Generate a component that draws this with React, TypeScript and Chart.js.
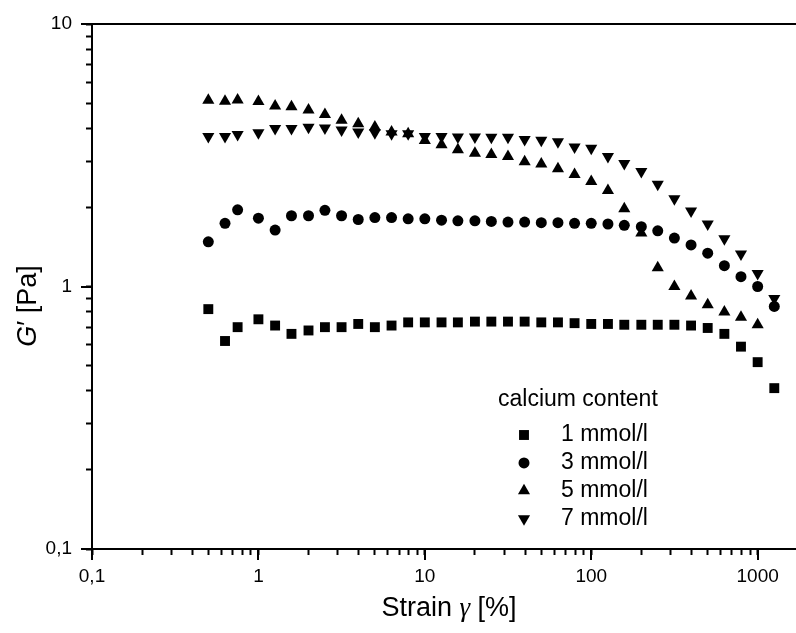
import React, { useEffect, useRef } from "react";
import { Chart, registerables } from "chart.js";
import { drawPoint } from "chart.js/helpers";

Chart.register(...registerables);

// ---- data ----
const strain = [0.5, 0.63, 0.75, 1, 1.26, 1.58, 2, 2.51, 3.16, 3.98, 5.01, 6.31, 7.94, 10, 12.6, 15.8, 20, 25.1, 31.6, 39.8, 50.1, 63.1, 79.4, 100, 126, 158, 200, 251, 316, 398, 501, 631, 794, 1000, 1259];

const g1mmol = [0.82, 0.62, 0.7, 0.75, 0.71, 0.66, 0.68, 0.7, 0.7, 0.72, 0.7, 0.71, 0.73, 0.73, 0.73, 0.73, 0.735, 0.735, 0.735, 0.735, 0.73, 0.73, 0.725, 0.72, 0.72, 0.715, 0.715, 0.715, 0.715, 0.71, 0.695, 0.66, 0.59, 0.515, 0.41];
const g3mmol = [1.48, 1.74, 1.96, 1.82, 1.64, 1.86, 1.86, 1.95, 1.86, 1.8, 1.83, 1.83, 1.81, 1.81, 1.79, 1.78, 1.78, 1.77, 1.76, 1.76, 1.75, 1.75, 1.74, 1.74, 1.73, 1.71, 1.69, 1.63, 1.53, 1.44, 1.34, 1.2, 1.09, 1.0, 0.84];
const g5mmol = [5.12, 5.08, 5.13, 5.07, 4.87, 4.84, 4.7, 4.52, 4.3, 4.17, 4.05, 3.88, 3.82, 3.6, 3.47, 3.32, 3.22, 3.18, 3.13, 2.99, 2.93, 2.81, 2.67, 2.51, 2.32, 1.98, 1.6, 1.18, 1.0, 0.92, 0.852, 0.8, 0.764, 0.715, null];
const g7mmol = [3.73, 3.73, 3.79, 3.85, 4.0, 4.0, 4.04, 4.02, 3.95, 3.88, 3.85, 3.82, 3.82, 3.73, 3.73, 3.71, 3.71, 3.7, 3.7, 3.63, 3.61, 3.56, 3.4, 3.36, 3.13, 2.94, 2.74, 2.45, 2.16, 1.94, 1.73, 1.52, 1.33, 1.12, 0.9];

const seriesLabels = ["1 mmol/l", "3 mmol/l", "5 mmol/l", "7 mmol/l"];
const legendTitle = "calcium content";

const xMajorTicks = [0.1, 1, 10, 100, 1000];
const xMajorLabels = ["0,1", "1", "10", "100", "1000"];
const yMajorTicks = [0.1, 1, 10];
const yMajorLabels = ["0,1", "1", "10"];

const X_MIN = 0.1;
const X_MAX = 1700;
const Y_MIN = 0.1;
const Y_MAX = 10;

const SANS = "'Liberation Sans', Arial, Helvetica, sans-serif";
const SERIF = "'Liberation Serif', 'Times New Roman', serif";

function minorTicks(majors: number[], max: number) {
  const out: number[] = [];
  majors.forEach((m) => {
    for (let k = 1; k <= 9; k++) {
      const v = m * k;
      if (v <= max * 1.0001) out.push(v);
    }
  });
  return Array.from(new Set(out.map((v) => +v.toPrecision(6)))).sort((a, b) => a - b);
}

function labelFor(v: number, majors: number[], labels: string[]) {
  for (let i = 0; i < majors.length; i++) {
    if (Math.abs(v - majors[i]) / majors[i] < 1e-6) return labels[i];
  }
  return "";
}

function toPoints(vals: (number | null)[]) {
  const pts: { x: number; y: number }[] = [];
  vals.forEach((v, i) => {
    if (v !== null && v !== undefined) pts.push({ x: strain[i], y: v });
  });
  return pts;
}

const overlayPlugin = {
  id: "overlay",
  afterDraw(chart: any) {
    const ctx = chart.ctx as CanvasRenderingContext2D;
    const xs = chart.scales.x;
    const ys = chart.scales.y;
    ctx.save();
    ctx.strokeStyle = "#000";
    ctx.fillStyle = "#000";
    ctx.lineWidth = 2;
    // major tick marks (longer)
    xMajorTicks.forEach((v) => {
      const px = Math.round(xs.getPixelForValue(v));
      ctx.beginPath();
      ctx.moveTo(px, xs.top);
      ctx.lineTo(px, xs.top + 11);
      ctx.stroke();
    });
    yMajorTicks.forEach((v) => {
      const py = Math.round(ys.getPixelForValue(v));
      ctx.beginPath();
      ctx.moveTo(ys.right - 11, py);
      ctx.lineTo(ys.right, py);
      ctx.stroke();
    });

    // axis titles
    const drawSegments = (segs: { t: string; f: string }[], cx: number, cy: number, rot: number) => {
      ctx.save();
      ctx.translate(cx, cy);
      ctx.rotate(rot);
      ctx.textBaseline = "alphabetic";
      ctx.textAlign = "left";
      let w = 0;
      segs.forEach((s) => {
        ctx.font = s.f;
        w += ctx.measureText(s.t).width;
      });
      let x = -w / 2;
      segs.forEach((s) => {
        ctx.font = s.f;
        ctx.fillText(s.t, x, 0);
        x += ctx.measureText(s.t).width;
      });
      ctx.restore();
    };
    drawSegments(
      [
        { t: "Strain ", f: `27px ${SANS}` },
        { t: "γ", f: `italic 27px ${SERIF}` },
        { t: " [%]", f: `27px ${SANS}` },
      ],
      449,
      616,
      0
    );
    drawSegments(
      [
        { t: "G", f: `italic 27px ${SANS}` },
        { t: "′", f: `27px ${SANS}` },
        { t: " [Pa]", f: `27px ${SANS}` },
      ],
      36,
      306,
      -Math.PI / 2
    );

    // legend
    ctx.font = `23px ${SANS}`;
    ctx.textBaseline = "middle";
    ctx.textAlign = "left";
    ctx.fillText(legendTitle, 498, 400);
    chart.data.datasets.forEach((ds: any, i: number) => {
      const y = 435 + i * 27.9;
      ctx.fillStyle = "#000";
      drawPoint(
        ctx,
        { pointStyle: ds.pointStyle, radius: ds.pointRadius, rotation: ds.pointRotation || 0, borderWidth: 0 } as any,
        524,
        y
      );
      ctx.fillText(ds.label, 561, y);
    });
    ctx.restore();
  },
};

export default function App() {
  const ref = useRef<HTMLCanvasElement | null>(null);
  useEffect(() => {
    if (!ref.current) return;
    const xTicks = minorTicks(xMajorTicks.slice(0, -1), X_MAX).concat([1000]);
    const yTicks = minorTicks(yMajorTicks.slice(0, -1), Y_MAX).concat([10]);
    const base = { backgroundColor: "#000", borderColor: "#000", borderWidth: 0, showLine: false };
    const chart = new Chart(ref.current, {
      type: "scatter",
      data: {
        datasets: [
          { ...base, label: seriesLabels[0], data: toPoints(g1mmol), pointStyle: "rect", pointRadius: 7 },
          { ...base, label: seriesLabels[1], data: toPoints(g3mmol), pointStyle: "circle", pointRadius: 5.5 },
          { ...base, label: seriesLabels[2], data: toPoints(g5mmol), pointStyle: "triangle", pointRadius: 7 },
          { ...base, label: seriesLabels[3], data: toPoints(g7mmol), pointStyle: "triangle", pointRadius: 7, pointRotation: 180 },
        ] as any,
      },
      options: {
        animation: false,
        responsive: false,
        devicePixelRatio: 1,
        layout: { autoPadding: false, padding: { top: 24, left: 0, right: 0, bottom: 0 } },
        plugins: { legend: { display: false }, tooltip: { enabled: false } },
        elements: { point: { hoverRadius: 7 } },
        scales: {
          x: {
            type: "logarithmic",
            position: "bottom",
            min: X_MIN,
            max: X_MAX,
            afterFit: (s: any) => {
              s.height = 84;
              s.paddingLeft = 0;
              s.paddingRight = 0;
            },
            afterBuildTicks: (s: any) => {
              s.ticks = xTicks.map((v) => ({ value: v }));
            },
            ticks: {
              autoSkip: false,
              maxRotation: 0,
              minRotation: 0,
              padding: 10,
              color: "#000",
              font: { family: SANS, size: 19 },
              callback: (v: any) => labelFor(Number(v), xMajorTicks, xMajorLabels),
            },
            grid: { display: true, drawOnChartArea: false, drawTicks: true, tickLength: 6, tickWidth: 2, tickColor: "#000", color: "#000" },
            border: { display: true, color: "#000", width: 2 },
          },
          x2: {
            type: "linear",
            position: "top",
            min: 0,
            max: 1,
            ticks: { display: false },
            grid: { display: false, drawTicks: false },
            border: { display: true, color: "#000", width: 2 },
            afterFit: (s: any) => {
              s.height = 0;
              s.paddingLeft = 0;
              s.paddingRight = 0;
            },
          },
          y: {
            type: "logarithmic",
            position: "left",
            min: Y_MIN,
            max: Y_MAX,
            afterFit: (s: any) => {
              s.width = 92;
              s.paddingTop = 0;
              s.paddingBottom = 0;
            },
            afterBuildTicks: (s: any) => {
              s.ticks = yTicks.map((v) => ({ value: v }));
            },
            ticks: {
              autoSkip: false,
              padding: 14,
              color: "#000",
              font: { family: SANS, size: 19 },
              callback: (v: any) => labelFor(Number(v), yMajorTicks, yMajorLabels),
            },
            grid: { display: true, drawOnChartArea: false, drawTicks: true, tickLength: 6, tickWidth: 2, tickColor: "#000", color: "#000" },
            border: { display: true, color: "#000", width: 2 },
          },
        } as any,
      },
      plugins: [overlayPlugin],
    });
    return () => chart.destroy();
  }, []);
  return (
    <div style={{ position: "fixed", left: 0, top: 0, width: 796, height: 633, background: "#fff" }}>
      <canvas ref={ref} width={796} height={633} style={{ display: "block", width: 796, height: 633 }} />
    </div>
  );
}
